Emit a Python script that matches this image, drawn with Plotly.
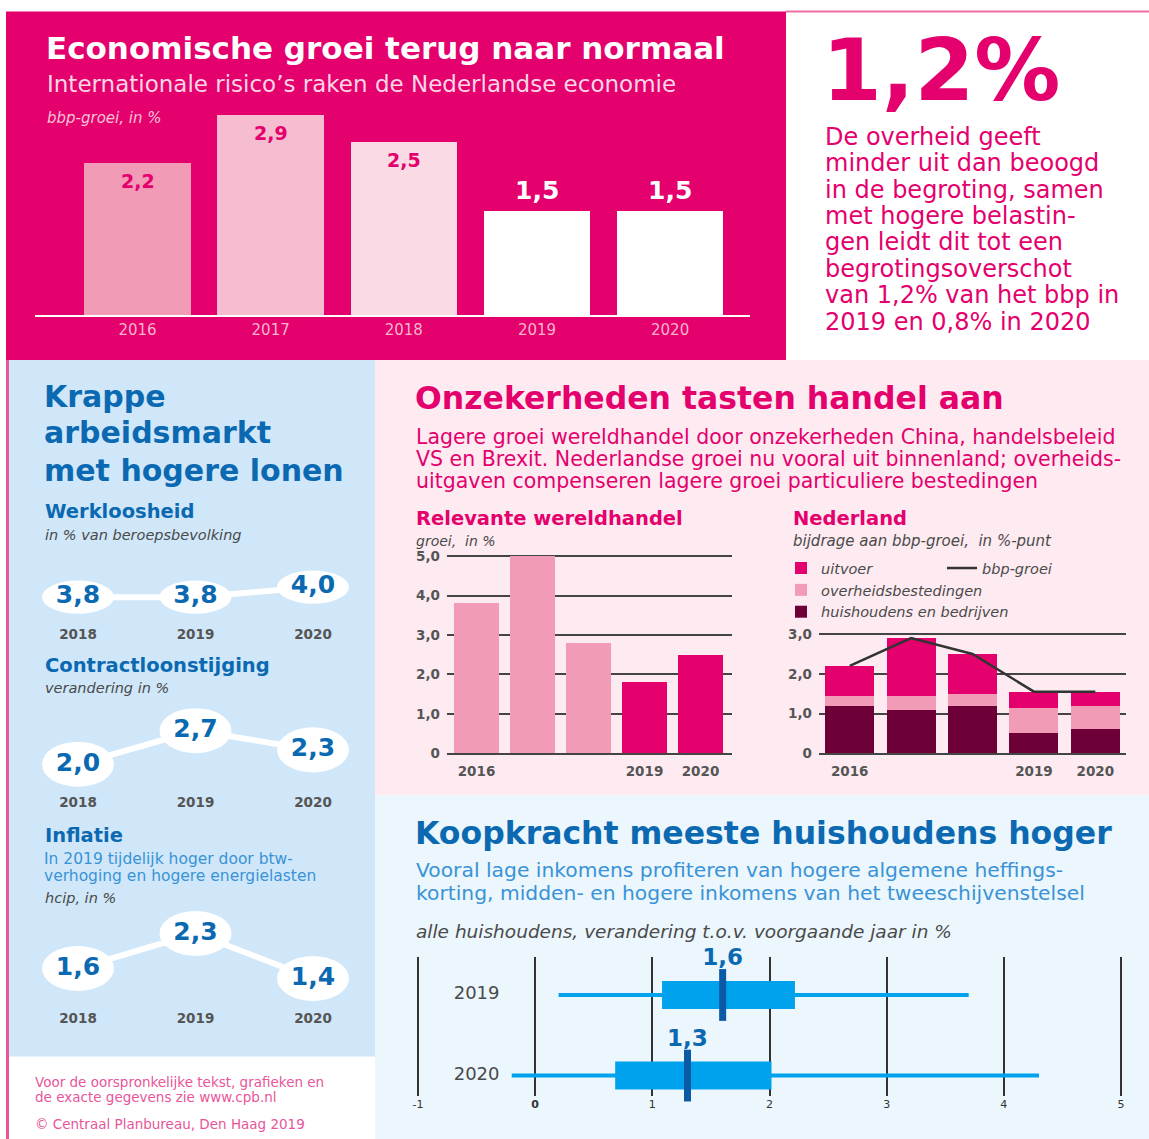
import plotly.graph_objects as go

W, H = 1149, 1139
FONT = "DejaVu Sans"

# ---- data ----
# Economische groei (top)
top_years = ['2016', '2017', '2018', '2019', '2020']
top_bbp = [2.2, 2.9, 2.5, 1.5, 1.5]

# Krappe arbeidsmarkt (left)
left_years = ['2018', '2019', '2020']
werkloosheid = [3.8, 3.8, 4.0]
contractloon = [2.0, 2.7, 2.3]
inflatie = [1.6, 2.3, 1.4]

# Relevante wereldhandel
wh_years = ['2016', '2017', '2018', '2019', '2020']
wereldhandel = [3.8, 5.0, 2.8, 1.8, 2.5]

# Nederland, bijdrage aan bbp-groei
nl_years = ['2016', '2017', '2018', '2019', '2020']
huishoudens = [1.2, 1.1, 1.2, 0.5, 0.6]
overheid = [0.25, 0.35, 0.3, 0.65, 0.6]
uitvoer = [0.75, 1.45, 1.0, 0.4, 0.35]
bbp_groei = [2.2, 2.9, 2.5, 1.55, 1.55]

# Koopkracht
kk_years = ['2019', '2020']
kk_min = [0.2, -0.2]
kk_q1 = [1.1, 0.7]
kk_median = [1.6, 1.3]
kk_q3 = [2.2, 2.0]
kk_max = [3.7, 4.3]

MAG = '#e4006d'
BLUE = '#0b69b2'
BLUE_LIGHT = '#3a93d6'
GREY = '#4a4a4a'

# layout is measured in picture pixels; small correction for how the page gets captured
SX, OX = 0.9965, 3.0
SY, OY = 0.9877, 5.4


def fx(x):
    return (x - OX) / SX / W


def fy(y):
    return 1 - (y - OY) / SY / H


def fmt(v):
    return f"{v:.1f}".replace('.', ',')


def xd(a, b):
    return [max(0, fx(a)), min(1, fx(b))]


def yd(top, bottom):
    return [max(0, fy(bottom)), min(1, fy(top))]


def txt(x, y, s, size, color, bold=False, italic=False, anchor='left'):
    return dict(x=fx(x), y=fy(y), xref='paper', yref='paper', text=s,
                showarrow=False, xanchor=anchor, yanchor='middle',
                font=dict(family=FONT, size=size, color=color,
                          weight='bold' if bold else 'normal',
                          style='italic' if italic else 'normal'))


def rect(x0, y0, x1, y1, color):
    return dict(type='rect', xref='paper', yref='paper', layer='below',
                x0=fx(x0), x1=fx(x1), y0=fy(y1), y1=fy(y0),
                fillcolor=color, line=dict(width=0))


fig = go.Figure()
shapes = []
ann = []

# ---- panel backgrounds ----
shapes += [
    rect(6, 12, 786, 360, MAG),
    rect(786, 11, 1160, 13, '#f06ea0'),
    rect(6, 360, 9, 1160, '#e8579a'),
    rect(9, 360, 375, 1056, '#cfe7f9'),
    rect(375, 360, 1160, 795, '#fdebf1'),
    rect(375, 795, 1160, 1160, '#ebf6fd'),
]

# ---- top: economische groei ----
top_colors = ['#f19bb6', '#f6bccf', '#fadbe5', '#ffffff', '#ffffff']
fig.add_trace(go.Bar(x=top_years, y=top_bbp, marker=dict(color=top_colors, line=dict(width=0)),
                     xaxis='x', yaxis='y', showlegend=False, hoverinfo='skip'))
for i, (yr, v) in enumerate(zip(top_years, top_bbp)):
    if int(yr) < 2019:
        ann.append(dict(x=i, y=v, xref='x', yref='y', text=fmt(v), showarrow=False,
                        yanchor='top', yshift=-5,
                        font=dict(family=FONT, size=19, color=MAG, weight='bold')))
    else:
        ann.append(dict(x=i, y=v, xref='x', yref='y', text=fmt(v), showarrow=False,
                        yanchor='bottom', yshift=4,
                        font=dict(family=FONT, size=25, color='white', weight='bold')))

ann += [
    txt(44, 48, 'Economische groei terug naar normaal', 31, 'white', bold=True),
    txt(45, 84, 'Internationale risico’s raken de Nederlandse economie', 23, '#fcd6e4'),
    txt(45, 118, 'bbp-groei, in %', 15, '#f8c3d7', italic=True),
]

# ---- top right ----
ann.append(txt(820, 70, '1,2%', 86, MAG, bold=True))
right_lines = ['De overheid geeft', 'minder uit dan beoogd', 'in de begroting, samen',
               'met hogere belastin-', 'gen leidt dit tot een', 'begrotingsoverschot',
               'van 1,2% van het bbp in', '2019 en 0,8% in 2020']
for i, line in enumerate(right_lines):
    ann.append(txt(823, 137 + i * 26.4, line, 24, MAG))

# ---- left panel ----
ann += [
    txt(42, 397, 'Krappe', 30, BLUE, bold=True),
    txt(42, 433, 'arbeidsmarkt', 30, BLUE, bold=True),
    txt(42, 470, 'met hogere lonen', 30, BLUE, bold=True),
    txt(43, 511, 'Werkloosheid', 19.5, BLUE, bold=True),
    txt(43, 535, 'in % van beroepsbevolking', 14.5, GREY, italic=True),
    txt(43, 665, 'Contractloonstijging', 19.5, BLUE, bold=True),
    txt(43, 688, 'verandering in %', 14.5, GREY, italic=True),
    txt(43, 835, 'Inflatie', 19.5, BLUE, bold=True),
    txt(42, 859, 'In 2019 tijdelijk hoger door btw-', 15.5, BLUE_LIGHT),
    txt(42, 876, 'verhoging en hogere energielasten', 15.5, BLUE_LIGHT),
    txt(43, 898, 'hcip, in %', 14.5, GREY, italic=True),
    txt(33, 1081, 'Voor de oorspronkelijke tekst, grafieken en', 13.5, '#e8559a'),
    txt(33, 1096, 'de exacte gegevens zie www.cpb.nl', 13.5, '#e8559a'),
    txt(33, 1123, '© Centraal Planbureau, Den Haag 2019', 13.5, '#e8559a'),
]

# small "bubble" line charts:
# (axis id, values, anchor value, anchor px, px/unit, top, bottom, half height px)
bubble_specs = [
    (2, werkloosheid, 3.8, 597, 50, 545, 622, 16.5),
    (3, contractloon, 2.0, 764, 48, 700, 790, 22.5),
    (4, inflatie, 1.6, 968, 50, 900, 1006, 22.5),
]
x_center0, x_step = 78, 117.5
for ax, vals, a_val, a_px, scale, top, bottom, hh in bubble_specs:
    fig.add_trace(go.Scatter(x=left_years, y=vals, mode='lines+text',
                             line=dict(color='white', width=6),
                             text=[fmt(v) for v in vals], textposition='middle center',
                             textfont=dict(family=FONT, size=25, color=BLUE, weight='bold'),
                             xaxis=f'x{ax}', yaxis=f'y{ax}', showlegend=False, hoverinfo='skip'))
    for i, v in enumerate(vals):
        shapes.append(dict(type='circle', xref=f'x{ax}', yref=f'y{ax}', layer='below',
                           x0=i - 36 / x_step, x1=i + 36 / x_step,
                           y0=v - hh / scale, y1=v + hh / scale,
                           fillcolor='white', line=dict(width=0)))
    fig.layout[f'xaxis{ax}'] = dict(
        domain=xd(20, 370), anchor=f'y{ax}', type='category',
        range=[(20 - x_center0) / x_step, (370 - x_center0) / x_step],
        showgrid=False, zeroline=False, showline=False, ticks='', ticklabelstandoff=2,
        tickfont=dict(family=FONT, size=13.5, color='#555', weight='bold'))
    fig.layout[f'yaxis{ax}'] = dict(
        domain=yd(top, bottom), anchor=f'x{ax}',
        range=[a_val - (bottom - a_px) / scale, a_val + (a_px - top) / scale],
        visible=False)

# ---- middle: onzekerheden ----
ann += [
    txt(413, 398, 'Onzekerheden tasten handel aan', 31.5, MAG, bold=True),
    txt(414, 437, 'Lagere groei wereldhandel door onzekerheden China, handelsbeleid', 20.5, MAG),
    txt(414, 459, 'VS en Brexit. Nederlandse groei nu vooral uit binnenland; overheids-', 20.5, MAG),
    txt(414, 481, 'uitgaven compenseren lagere groei particuliere bestedingen', 20.5, MAG),
    txt(414, 518, 'Relevante wereldhandel', 19.5, MAG, bold=True),
    txt(414, 541, 'groei,  in %', 14, GREY, italic=True),
    txt(791, 518, 'Nederland', 19.5, MAG, bold=True),
    txt(791, 541, 'bijdrage aan bbp-groei,  in %-punt', 15, GREY, italic=True),
]

wh_colors = ['#f19bb6' if int(y) < 2019 else MAG for y in wh_years]
fig.add_trace(go.Bar(x=wh_years, y=wereldhandel, marker=dict(color=wh_colors, line=dict(width=0)),
                     xaxis='x5', yaxis='y5', showlegend=False, hoverinfo='skip'))

nl_series = [('huishoudens en bedrijven', huishoudens, '#6e0038'),
             ('overheidsbestedingen', overheid, '#f19bb6'),
             ('uitvoer', uitvoer, MAG)]
for name, vals, col in nl_series:
    fig.add_trace(go.Bar(x=nl_years, y=vals, name=name, marker=dict(color=col, line=dict(width=0)),
                         xaxis='x6', yaxis='y6', legendgroup=name, hoverinfo='skip'))
fig.add_trace(go.Scatter(x=nl_years, y=bbp_groei, name='bbp-groei', mode='lines',
                         line=dict(color='#333333', width=2.5), xaxis='x6', yaxis='y6',
                         legend='legend2', hoverinfo='skip'))

axis_font = dict(family=FONT, size=13.5, color='#555', weight='bold')
fig.update_layout(
    xaxis5=dict(domain=xd(447, 732), anchor='y5', type='category',
                range=[(447 - 476.5) / 56, (732 - 476.5) / 56],
                tickvals=['2016', '2019', '2020'], ticks='', showgrid=False, zeroline=False,
                showline=True, linecolor='#444', linewidth=2, tickfont=axis_font,
                ticklabelstandoff=5),
    yaxis5=dict(domain=yd(553, 753), anchor='x5', range=[0, 200 / 39.4],
                tickvals=[0, 1, 2, 3, 4, 5], ticktext=['0', '1,0', '2,0', '3,0', '4,0', '5,0'],
                showgrid=True, gridcolor='#444', gridwidth=2, zeroline=False, ticks='',
                ticklabelstandoff=6, tickfont=axis_font),
    xaxis6=dict(domain=xd(819, 1126), anchor='y6', type='category', range=[-0.5, 4.5],
                tickvals=['2016', '2019', '2020'], ticks='', showgrid=False, zeroline=False,
                showline=True, linecolor='#444', linewidth=2, tickfont=axis_font,
                ticklabelstandoff=5),
    yaxis6=dict(domain=yd(630, 753), anchor='x6', range=[0, 123 / 39.7],
                tickvals=[0, 1, 2, 3], ticktext=['0', '1,0', '2,0', '3,0'],
                showgrid=True, gridcolor='#444', gridwidth=2, zeroline=False, ticks='',
                ticklabelstandoff=6, tickfont=axis_font),
)

# ---- bottom: koopkracht ----
ann += [
    txt(413, 833, 'Koopkracht meeste huishoudens hoger', 31.5, BLUE, bold=True),
    txt(414, 870, 'Vooral lage inkomens profiteren van hogere algemene heffings-', 20.3, BLUE_LIGHT),
    txt(414, 893, 'korting, midden- en hogere inkomens van het tweeschijvenstelsel', 20.3, BLUE_LIGHT),
    txt(414, 931, 'alle huishoudens, verandering t.o.v. voorgaande jaar in %', 18.5, GREY, italic=True),
]
fig.add_trace(go.Box(y=kk_years, q1=kk_q1, median=kk_median, q3=kk_q3,
                     lowerfence=kk_min, upperfence=kk_max, orientation='h',
                     fillcolor='#00a2ee', line=dict(color='#00a2ee', width=4),
                     whiskerwidth=0, width=24 / 80.5, xaxis='x7', yaxis='y7',
                     showlegend=False, hoverinfo='skip'))
fig.add_trace(go.Scatter(x=kk_median, y=kk_years, mode='markers+text',
                         marker=dict(symbol='line-ns', size=37, line=dict(color='#0a5aa5', width=7)),
                         text=[fmt(v) for v in kk_median], textposition='top center',
                         textfont=dict(family=FONT, size=23, color=BLUE, weight='bold'),
                         cliponaxis=False, xaxis='x7', yaxis='y7', showlegend=False,
                         hoverinfo='skip'))
# row labels sit between the -1 and 0 gridlines
fig.add_trace(go.Scatter(x=[-0.5] * len(kk_years), y=kk_years, mode='text', text=kk_years,
                         textposition='middle center',
                         textfont=dict(family=FONT, size=18, color=GREY),
                         xaxis='x7', yaxis='y7', showlegend=False, hoverinfo='skip'))
fig.update_layout(
    xaxis7=dict(domain=xd(416, 1123), anchor='y7', range=[-1 - 2 / 117.2, 5 + 2 / 117.2],
                tickvals=[-1, 0, 1, 2, 3, 4, 5], ticktext=['-1', '<b>0</b>', '1', '2', '3', '4', '5'],
                showgrid=True, gridcolor='#333', gridwidth=2, zeroline=False, ticks='',
                tickfont=dict(family=FONT, size=11, color='#333')),
    yaxis7=dict(domain=yd(957, 1095), anchor='x7', type='category',
                range=[(1095 - 994.5) / 80.5, (957 - 994.5) / 80.5],
                showticklabels=False, ticks='', showgrid=False, zeroline=False),
)

# ---- top axes ----
fig.update_layout(
    xaxis=dict(domain=xd(35, 750), anchor='y', type='category', range=[-0.77, 4.6],
               showgrid=False, zeroline=False, showline=True, linecolor='white', linewidth=2,
               ticks='', tickfont=dict(family=FONT, size=15, color='#f7b4cc')),
    yaxis=dict(domain=yd(94, 315), anchor='x', range=[0, 221 / 69], visible=False),
)

fig.update_layout(
    width=W, height=H, margin=dict(l=0, r=0, t=0, b=0),
    paper_bgcolor='white', plot_bgcolor='rgba(0,0,0,0)',
    barmode='stack', bargap=0.2,
    font=dict(family=FONT),
    shapes=shapes, annotations=ann,
    legend=dict(x=fx(781), y=fy(552), xanchor='left', yanchor='top',
                traceorder='reversed', bgcolor='rgba(0,0,0,0)', tracegroupgap=3,
                font=dict(family=FONT, size=14.5, color=GREY, style='italic')),
    legend2=dict(x=fx(942), y=fy(552), xanchor='left', yanchor='top',
                 bgcolor='rgba(0,0,0,0)',
                 font=dict(family=FONT, size=14.5, color=GREY, style='italic')),
)

# pin the page to exactly the figure size so nothing shifts or scrolls
page_css = "margin:0;padding:0;overflow:hidden;width:1149px;height:1139px;"
fig.write_html(
    "out.html",
    config={'displayModeBar': False},
    post_script=(
        f"document.documentElement.style.cssText='{page_css}';"
        f"document.body.style.cssText='{page_css}';"
        "var gd=document.getElementById('{plot_id}');"
        "gd.style.position='absolute';gd.style.left='0px';gd.style.top='0px';"
    ),
)
